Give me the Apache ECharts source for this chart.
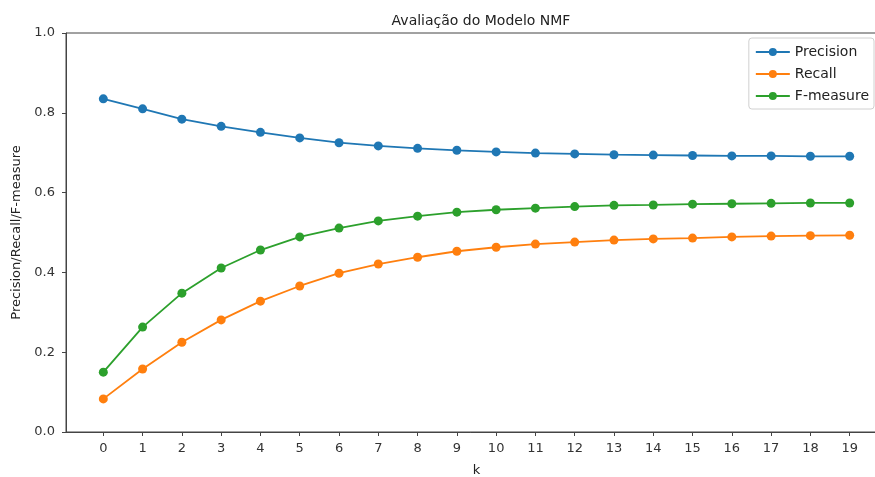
<!DOCTYPE html>
<html>
<head>
<meta charset="utf-8">
<script src="https://cdn.jsdelivr.net/npm/echarts@6/dist/echarts.min.js"></script>
<style>
  html, body { margin: 0; padding: 0; background: #fff; }
  #chart { width: 875px; height: 477px; }
</style>
</head>
<body>
<div id="chart"></div>
<script>
var ks = [0, 1, 2, 3, 4, 5, 6, 7, 8, 9, 10, 11, 12, 13, 14, 15, 16, 17, 18, 19];
var precision = [0.835, 0.810, 0.784, 0.766, 0.751, 0.737, 0.725, 0.717, 0.711, 0.706, 0.702, 0.699, 0.697, 0.695, 0.694, 0.693, 0.692, 0.692, 0.691, 0.691];
var recall = [0.083, 0.158, 0.225, 0.281, 0.328, 0.366, 0.398, 0.421, 0.438, 0.453, 0.463, 0.471, 0.476, 0.481, 0.484, 0.486, 0.489, 0.491, 0.492, 0.493];
var fmeasure = [0.150, 0.263, 0.348, 0.411, 0.456, 0.489, 0.511, 0.529, 0.541, 0.551, 0.557, 0.561, 0.565, 0.568, 0.569, 0.571, 0.572, 0.573, 0.574, 0.574];

var font = 'DejaVu Sans';

function pairs(vals) {
  return ks.map(function (k, i) { return [k, vals[i]]; });
}

function makeSeries(name, vals, color) {
  return {
    name: name,
    type: 'line',
    data: pairs(vals),
    symbol: 'circle',
    symbolSize: 9,
    showAllSymbol: true,
    lineStyle: { color: color, width: 1.8 },
    itemStyle: { color: color },
    emphasis: { disabled: true },
    animation: false
  };
}

var myChart = echarts.init(document.getElementById('chart'));
var option = {
  backgroundColor: '#fff',
  animation: false,
  title: {
    text: 'Avaliação do Modelo NMF',
    left: 476,
    top: 9,
    textAlign: 'center',
    textStyle: { fontFamily: font, fontSize: 14, fontWeight: 'normal', color: '#222' }
  },
  legend: {
    orient: 'vertical',
    right: 1,
    top: 38,
    itemWidth: 34,
    itemHeight: 10,
    itemGap: 8,
    padding: [7, 5, 6, 6],
    borderColor: '#d0d0d0',
    borderWidth: 1,
    borderRadius: 3,
    textStyle: { fontFamily: font, fontSize: 14, color: '#222' },
    data: ['Precision', 'Recall', 'F-measure']
  },
  grid: {
    left: 66,
    top: 33,
    width: 821,
    height: 399,
    outerBoundsMode: 'none',
    show: true,
    borderColor: '#444',
    borderWidth: 1,
    backgroundColor: 'transparent'
  },
  xAxis: {
    type: 'value',
    min: -0.95,
    max: 19.95,
    name: 'k',
    nameLocation: 'middle',
    nameGap: 32,
    nameTextStyle: { fontFamily: font, fontSize: 13, color: '#222' },
    axisLine: { onZero: false, lineStyle: { color: '#444' } },
    axisTick: { show: true, inside: false, length: 4, lineStyle: { color: '#444' },
      customValues: ks },
    axisLabel: { fontFamily: font, fontSize: 13, color: '#333', margin: 10,
      customValues: ks,
      formatter: function (v) { return String(v); } },
    splitLine: { show: false }
  },
  yAxis: {
    type: 'value',
    min: 0,
    max: 1,
    interval: 0.2,
    name: 'Precision/Recall/F-measure',
    nameLocation: 'middle',
    nameGap: 42,
    nameTextStyle: { fontFamily: font, fontSize: 13, color: '#222' },
    axisLine: { show: true, onZero: false, lineStyle: { color: '#444' } },
    axisTick: { show: true, inside: false, length: 4, lineStyle: { color: '#444' } },
    axisLabel: { fontFamily: font, fontSize: 13, color: '#333', margin: 11,
      formatter: function (v) { return v.toFixed(1); } },
    splitLine: { show: false }
  },
  series: [
    makeSeries('Precision', precision, '#1f77b4'),
    makeSeries('Recall', recall, '#ff7f0e'),
    makeSeries('F-measure', fmeasure, '#2ca02c')
  ]
};
myChart.clear();
myChart.setOption(option);
window.addEventListener('resize', () => { myChart.resize() });
</script>
</body>
</html>
